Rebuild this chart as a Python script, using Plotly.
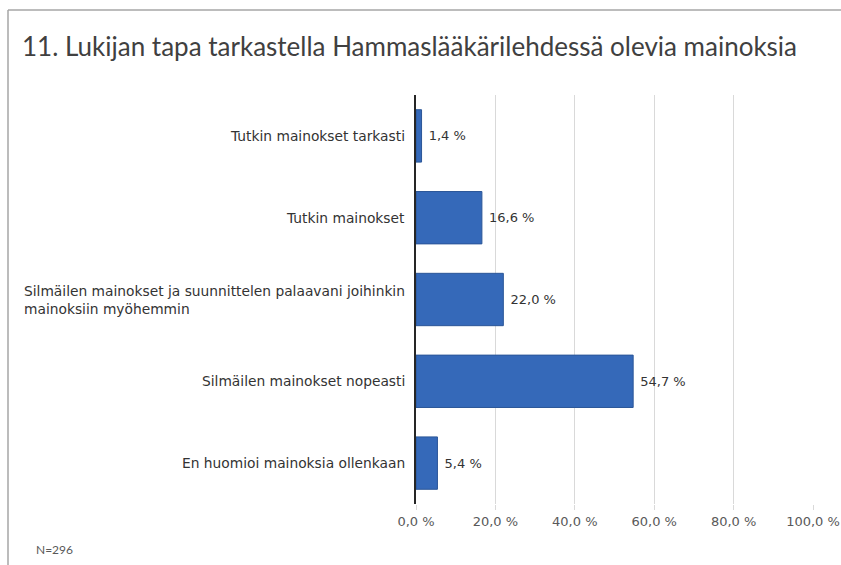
import plotly.graph_objects as go

categories = [
    "Tutkin mainokset tarkasti",
    "Tutkin mainokset",
    "Silmäilen mainokset ja suunnittelen palaavani joihinkin<br>mainoksiin myöhemmin",
    "Silmäilen mainokset nopeasti",
    "En huomioi mainoksia ollenkaan",
]
values = [1.4, 16.6, 22.0, 54.7, 5.4]
tick_values = [0, 20, 40, 60, 80, 100]
tick_labels = ["0,0 %", "20,0 %", "40,0 %", "60,0 %", "80,0 %", "100,0 %"]
title_text = "11. Lukijan tapa tarkastella Hammaslääkärilehdessä olevia mainoksia"
note_text = "N=296"

W, H = 841, 565
ML, MR, MT, MB = 416, 28, 95, 61
PW = W - ML - MR
PH = H - MT - MB

def px_x(px):
    return (px - ML) / PW

def px_y(py):
    return (H - MB - py) / PH

LABEL_FONT = "DejaVu Sans"

fig = go.Figure()
fig.add_trace(go.Bar(
    y=categories,
    x=values,
    orientation="h",
    width=0.64,
    marker=dict(color="#3569b9", line=dict(color="#2b5698", width=1)),
    texttemplate="\u00a0%{x:.1f} %",
    textposition="outside",
    cliponaxis=False,
    textfont=dict(family=LABEL_FONT, size=13, color="#333333"),
    hoverinfo="skip",
))

annotations = []
for c in categories:
    annotations.append(dict(
        x=px_x(407), xref="paper", y=c, yref="y",
        text=c, showarrow=False, xanchor="right", yanchor="middle",
        align="left",
        font=dict(family=LABEL_FONT, size=13.8, color="#333333"),
    ))
annotations.append(dict(
    x=px_x(20), xref="paper", y=px_y(46), yref="paper",
    text=title_text, showarrow=False, xanchor="left", yanchor="middle",
    font=dict(family="Lato", size=26, color="#404040"),
))
annotations.append(dict(
    x=px_x(34), xref="paper", y=px_y(549), yref="paper",
    text=note_text, showarrow=False, xanchor="left", yanchor="middle",
    font=dict(family="Lato", size=12, color="#595959"),
))

shapes = [
    dict(type="line", xref="paper", yref="paper",
         x0=px_x(8), x1=px_x(8), y0=px_y(10), y1=px_y(566),
         line=dict(color="#a6a6a6", width=1.5)),
    dict(type="line", xref="paper", yref="paper",
         x0=px_x(8), x1=px_x(842), y0=px_y(10), y1=px_y(10),
         line=dict(color="#a6a6a6", width=1.5)),
]

fig.update_layout(
    width=W, height=H,
    margin=dict(l=ML, r=MR, t=MT, b=MB, autoexpand=False),
    paper_bgcolor="white", plot_bgcolor="white",
    separators=", ",
    showlegend=False,
    bargap=0.36,
    annotations=annotations,
    shapes=shapes,
    xaxis=dict(
        range=[0, 100],
        tickvals=tick_values,
        ticktext=tick_labels,
        automargin=False,
        showgrid=True, gridcolor="#d9d9d9", gridwidth=1,
        zeroline=False,
        ticks="outside", ticklen=5, tickcolor="#d9d9d9",
        tickfont=dict(family=LABEL_FONT, size=13, color="#595959"),
        showline=False,
        fixedrange=True,
    ),
    yaxis=dict(
        autorange="reversed",
        automargin=False,
        showticklabels=False,
        showgrid=False,
        zeroline=False,
        showline=True, linecolor="#262626", linewidth=1.5,
        ticks="", fixedrange=True,
    ),
)

fig.write_html("out.html")
